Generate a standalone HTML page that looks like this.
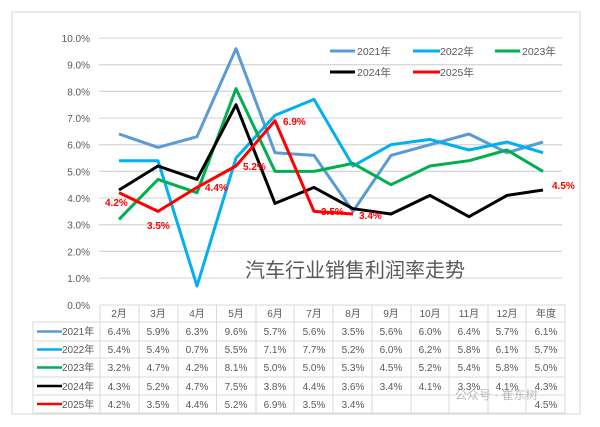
<!DOCTYPE html>
<html><head><meta charset="utf-8"><style>
body{margin:0;background:#fff;}
svg{display:block;font-family:"Liberation Sans","Noto Sans CJK SC",sans-serif;}
</style></head><body>
<svg width="600" height="427" viewBox="0 0 600 427">
<rect x="12" y="12" width="568" height="402" fill="#fff" stroke="#d9d9d9" stroke-width="1"/>
<g stroke="#d9d9d9" stroke-width="1.3">
<line x1="99" x2="562" y1="38" y2="38"/><line x1="99" x2="562" y1="64.7" y2="64.7"/>
<line x1="99" x2="562" y1="91.3" y2="91.3"/><line x1="99" x2="562" y1="118" y2="118"/>
<line x1="99" x2="562" y1="144.7" y2="144.7"/><line x1="99" x2="562" y1="171.3" y2="171.3"/>
<line x1="99" x2="562" y1="198" y2="198"/><line x1="99" x2="562" y1="224.7" y2="224.7"/>
<line x1="99" x2="562" y1="251.3" y2="251.3"/><line x1="99" x2="562" y1="278" y2="278"/>
</g>
<g font-size="10" fill="#595959" text-anchor="end">
<text x="90" y="42">10.0%</text><text x="90" y="68.7">9.0%</text><text x="90" y="95.3">8.0%</text>
<text x="90" y="122">7.0%</text><text x="90" y="148.7">6.0%</text><text x="90" y="175.3">5.0%</text>
<text x="90" y="202">4.0%</text><text x="90" y="228.7">3.0%</text><text x="90" y="255.3">2.0%</text>
<text x="90" y="282">1.0%</text><text x="90" y="309">0.0%</text>
</g>
<text x="245" y="277" font-size="20" fill="#595959">汽车行业销售利润率走势</text>
<g fill="none" stroke-width="3" stroke-linejoin="round">
<polyline stroke="#5b9bd5" points="119,134 158,147.4 197,136.7 236,48.7 275,152.7 314,155.4 353,211.4 391,155.4 430,144.7 469,134 507,152.7 543,142"/>
<polyline stroke="#00b0f0" points="119,160.7 158,160.7 197,286 236,158 275,115.4 314,99.4 353,166 391,144.7 430,139.4 469,150 507,142 543,152.7"/>
<polyline stroke="#00b050" points="119,219.4 158,179.4 197,192.7 236,88.7 275,171.4 314,171.4 353,163.4 391,184.7 430,166 469,160.7 507,150 543,171.4"/>
<polyline stroke="#000" points="119,190 158,166 197,179.4 236,104.7 275,203.4 314,187.4 353,208.7 391,214 430,195.4 469,216.7 507,195.4 543,190"/>
<polyline stroke="#ff0000" points="119,192.7 158,211.4 197,187.4 236,166 275,120.7 314,211.4 353,214"/>
</g>
<g font-size="10" font-weight="bold" fill="#ff0000">
<text x="105" y="206">4.2%</text><text x="147" y="229">3.5%</text><text x="205" y="191">4.4%</text>
<text x="243" y="170">5.2%</text><text x="283" y="125">6.9%</text><text x="321" y="215">3.5%</text>
<text x="359" y="219">3.4%</text><text x="552" y="189">4.5%</text>
</g>
<g stroke-width="3">
<line x1="330" x2="355" y1="51" y2="51" stroke="#5b9bd5"/><line x1="413" x2="440" y1="51" y2="51" stroke="#00b0f0"/>
<line x1="495" x2="520" y1="51" y2="51" stroke="#00b050"/><line x1="330" x2="355" y1="72" y2="72" stroke="#000"/>
<line x1="413" x2="440" y1="72" y2="72" stroke="#ff0000"/>
</g>
<g font-size="10.5" fill="#595959">
<text x="357" y="55">2021年</text><text x="440" y="55">2022年</text><text x="522" y="55">2023年</text>
<text x="357" y="76">2024年</text><text x="440" y="76">2025年</text>
</g>
<!-- table -->
<g stroke="#d9d9d9" stroke-width="1" fill="none">
<rect x="100" y="305" width="465" height="17"/>
<rect x="33" y="322" width="532" height="91"/>
<line x1="33" x2="565" y1="341" y2="341"/><line x1="33" x2="565" y1="358" y2="358"/>
<line x1="33" x2="565" y1="377" y2="377"/><line x1="33" x2="565" y1="395" y2="395"/>
<line x1="100" x2="100" y1="305" y2="413"/><line x1="139" x2="139" y1="305" y2="413"/>
<line x1="178" x2="178" y1="305" y2="413"/><line x1="216.5" x2="216.5" y1="305" y2="413"/>
<line x1="256" x2="256" y1="305" y2="413"/><line x1="294" x2="294" y1="305" y2="413"/>
<line x1="333" x2="333" y1="305" y2="413"/><line x1="372" x2="372" y1="305" y2="413"/>
<line x1="411" x2="411" y1="305" y2="413"/><line x1="449" x2="449" y1="305" y2="413"/>
<line x1="488" x2="488" y1="305" y2="413"/><line x1="526" x2="526" y1="305" y2="413"/>
</g>
<g stroke-width="2.5">
<line x1="37" x2="62" y1="331.5" y2="331.5" stroke="#5b9bd5"/><line x1="37" x2="62" y1="349.5" y2="349.5" stroke="#00b0f0"/>
<line x1="37" x2="62" y1="367.5" y2="367.5" stroke="#00b050"/><line x1="37" x2="62" y1="386" y2="386" stroke="#000"/>
<line x1="37" x2="62" y1="404" y2="404" stroke="#ff0000"/>
</g>
<g font-size="10" fill="#595959">
<text x="62" y="335">2021年</text><text x="62" y="353">2022年</text><text x="62" y="371">2023年</text>
<text x="62" y="390">2024年</text><text x="62" y="408">2025年</text>
</g>
<g font-size="10" fill="#595959" text-anchor="middle">
<text y="317"><tspan x="119">2月</tspan><tspan x="158">3月</tspan><tspan x="197">4月</tspan><tspan x="236">5月</tspan><tspan x="275">6月</tspan><tspan x="314">7月</tspan><tspan x="353">8月</tspan><tspan x="391">9月</tspan><tspan x="430">10月</tspan><tspan x="469">11月</tspan><tspan x="507">12月</tspan><tspan x="546">年度</tspan></text>
<text y="335"><tspan x="119">6.4%</tspan><tspan x="158">5.9%</tspan><tspan x="197">6.3%</tspan><tspan x="236">9.6%</tspan><tspan x="275">5.7%</tspan><tspan x="314">5.6%</tspan><tspan x="353">3.5%</tspan><tspan x="391">5.6%</tspan><tspan x="430">6.0%</tspan><tspan x="469">6.4%</tspan><tspan x="507">5.7%</tspan><tspan x="546">6.1%</tspan></text>
<text y="353"><tspan x="119">5.4%</tspan><tspan x="158">5.4%</tspan><tspan x="197">0.7%</tspan><tspan x="236">5.5%</tspan><tspan x="275">7.1%</tspan><tspan x="314">7.7%</tspan><tspan x="353">5.2%</tspan><tspan x="391">6.0%</tspan><tspan x="430">6.2%</tspan><tspan x="469">5.8%</tspan><tspan x="507">6.1%</tspan><tspan x="546">5.7%</tspan></text>
<text y="371"><tspan x="119">3.2%</tspan><tspan x="158">4.7%</tspan><tspan x="197">4.2%</tspan><tspan x="236">8.1%</tspan><tspan x="275">5.0%</tspan><tspan x="314">5.0%</tspan><tspan x="353">5.3%</tspan><tspan x="391">4.5%</tspan><tspan x="430">5.2%</tspan><tspan x="469">5.4%</tspan><tspan x="507">5.8%</tspan><tspan x="546">5.0%</tspan></text>
<text y="390"><tspan x="119">4.3%</tspan><tspan x="158">5.2%</tspan><tspan x="197">4.7%</tspan><tspan x="236">7.5%</tspan><tspan x="275">3.8%</tspan><tspan x="314">4.4%</tspan><tspan x="353">3.6%</tspan><tspan x="391">3.4%</tspan><tspan x="430">4.1%</tspan><tspan x="469">3.3%</tspan><tspan x="507">4.1%</tspan><tspan x="546">4.3%</tspan></text>
<text y="408"><tspan x="119">4.2%</tspan><tspan x="158">3.5%</tspan><tspan x="197">4.4%</tspan><tspan x="236">5.2%</tspan><tspan x="275">6.9%</tspan><tspan x="314">3.5%</tspan><tspan x="353">3.4%</tspan><tspan x="546">4.5%</tspan></text>
</g>
<text x="455" y="399" font-size="12" fill="#aaaaaa" opacity="0.8">公众号 · 崔东树</text>
</svg>
</body></html>
